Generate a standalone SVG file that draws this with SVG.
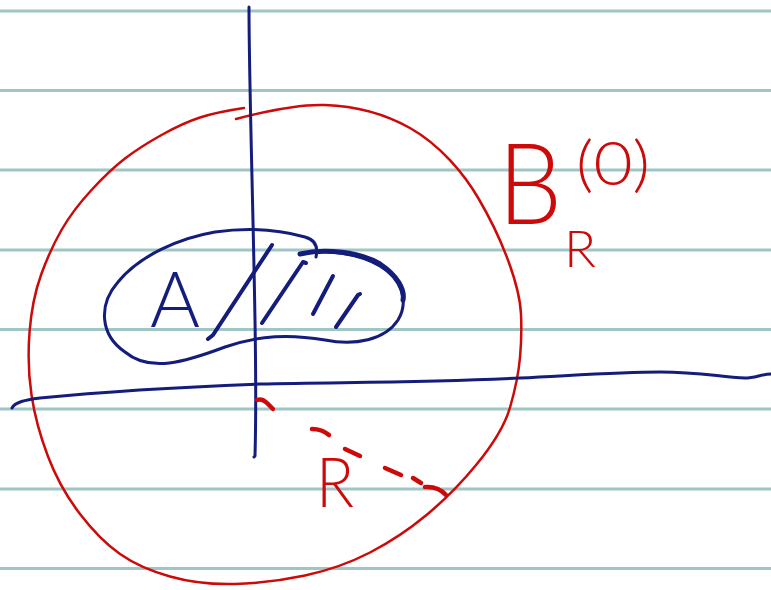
<svg xmlns="http://www.w3.org/2000/svg" width="771" height="590" viewBox="0 0 771 590">
<style>
.rule{stroke:#9fc5c5;stroke-width:3;fill:none}
.navy{stroke:#141c7c;fill:none;stroke-linecap:round;stroke-linejoin:round}
.red{stroke:#cc0a0a;fill:none;stroke-linecap:round;stroke-linejoin:round}
.tn{fill:#141c7c;font-family:Lato,"Liberation Sans",sans-serif;font-weight:300}
.tr{fill:#cc0a0a;font-family:Lato,"Liberation Sans",sans-serif;font-weight:300}
</style>
<rect x="0" y="0" width="771" height="590" fill="#ffffff"/>
<g id="paper">
<line class="rule" x1="0" y1="11" x2="771" y2="11"/>
<line class="rule" x1="0" y1="90.5" x2="771" y2="90.5"/>
<line class="rule" x1="0" y1="170" x2="771" y2="170"/>
<line class="rule" x1="0" y1="250" x2="771" y2="250"/>
<line class="rule" x1="0" y1="329.5" x2="771" y2="329.5"/>
<line class="rule" x1="0" y1="409" x2="771" y2="409"/>
<line class="rule" x1="0" y1="489" x2="771" y2="489"/>
<line class="rule" x1="0" y1="568.5" x2="771" y2="568.5"/>
</g>
<g id="ball">
<path class="red" stroke-width="2.5" d="M236,119 C270,110 300,104 325,105 C355,106 385,114 410,128 C440,145 463.7,173.3 478.5,198.5 Q497,230 508.5,261.5 Q520,293 521,314 Q522,335 520,357.5 Q518,380 510,407.5 C499.6,443.3 458.3,488.6 426.5,515 Q400,537 370,552.5 Q340,568 305,575.5 Q270,583 235,584 Q200,585 170,576.5 Q140,568 120,554 Q100,540 80,514 Q60,488 48,456.5 Q36,425 31.5,395 Q27,365 29.5,332.5 Q32,300 41,275 Q50,250 61.5,230 Q73,210 91.5,190 Q110,170 125,158.5 Q140,147 161.5,135 Q183,123 200,117.5 Q217,112 244,108"/>
</g>
<g id="axes">
<path class="navy" stroke-width="3" d="M249,7 C249,80 253,200 255,320 C256,380 256,420 255,456 L254,457"/>
<path class="navy" stroke-width="3" d="M12,408 C15,402 25,400 40,398 C100,392 180,387 260,384 C340,382 420,383 520,378 C580,375 620,372 660,372 C700,372 720,377 745,378 C755,378 762,374 771,374"/>
</g>
<g id="set-A">
<path class="navy" stroke-width="3" d="M316,257 C318,248 316,240 305,237 C280,230 250,227 215,232 C180,238 140,255 118,282 C98,305 100,335 125,352 C150,373 185,362 225,347 C260,335 290,334 325,340 C355,346 385,340 398,320 C410,300 400,278 380,266 C360,254 325,248 300,254"/>
<path class="navy" stroke-width="5" d="M300,254 C325,248 360,252 380,264 C398,276 405,290 403,300"/>
<path class="navy" stroke-width="4" d="M208,339 L213,335 L272,245"/>
<path class="navy" stroke-width="4" d="M262,323 L303,262 L306,263"/>
<path class="navy" stroke-width="4" d="M313,314 L333,276"/>
<path class="navy" stroke-width="4" d="M336,327 L358,295 L360,294"/>
<text class="tn" x="150" y="327" font-size="76" textLength="50" lengthAdjust="spacingAndGlyphs">A</text>
</g>
<g id="radius">
<path class="red" stroke-width="4.5" d="M257,400 Q262,398 267,403 L273,409"/>
<path class="red" stroke-width="4.5" d="M312,429 Q322,429 329,435"/>
<path class="red" stroke-width="4.5" d="M345,449 L360,456"/>
<path class="red" stroke-width="4.5" d="M385,468 L401,475"/>
<path class="red" stroke-width="4.5" d="M413,478 L421,483"/>
<path class="red" stroke-width="4.5" d="M425,487 Q438,486 446,495"/>
<text class="tr" x="316" y="507" font-size="68" textLength="38" lengthAdjust="spacingAndGlyphs">R</text>
</g>
<g id="label-ball">
<text class="tr" x="498" y="224" font-size="112" textLength="64" lengthAdjust="spacingAndGlyphs">B</text>
<text class="tr" x="576" y="185" font-size="62" textLength="74" lengthAdjust="spacingAndGlyphs">(0)</text>
<text class="tr" x="564" y="267" font-size="52" textLength="32" lengthAdjust="spacingAndGlyphs">R</text>
</g>
</svg>
